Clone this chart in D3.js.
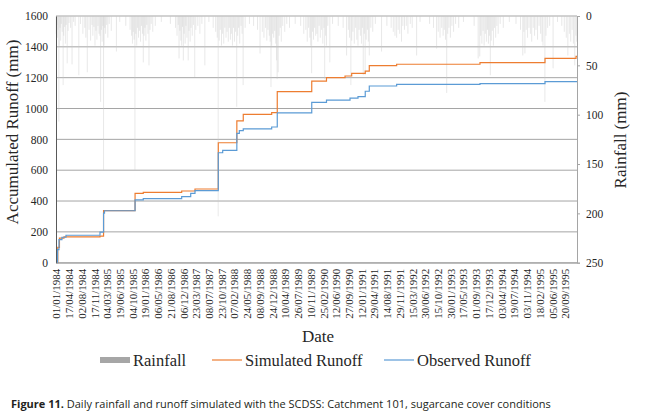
<!DOCTYPE html>
<html lang="en">
<head>
<meta charset="UTF-8">
<title>Rainfall and runoff - Catchment 101</title>
<script src="https://d3js.org/d3.v7.min.js"></script>
<style>
    body { margin: 0; background: #ffffff; }
    svg { display: block; }
    .tick text { font-family: 'Liberation Serif', 'Times New Roman', serif; font-size: 11.5px; fill: #262626; }
    .x-axis .tick text { font-size: 11px; }
    .axis-title { font-family: 'Liberation Serif', 'Times New Roman', serif; font-size: 17px; fill: #262626; }
    .legend-label { font-family: 'Liberation Serif', 'Times New Roman', serif; font-size: 16.5px; fill: #262626; }
    .caption { font-family: 'Open Sans', 'Noto Sans', sans-serif; font-size: 11px; fill: #231f20; }
</style>
</head>
<body>
<svg id="chart" width="645" height="414"></svg>
<script>
// x axis category labels (every 107th day, as in the spreadsheet)
const dateLabels = [
    "01/01/1984", "17/04/1984", "02/08/1984", "17/11/1984", "04/03/1985", "19/06/1985",
    "04/10/1985", "19/01/1986", "06/05/1986", "21/08/1986", "06/12/1986", "23/03/1987",
    "08/07/1987", "23/10/1987", "07/02/1988", "24/05/1988", "08/09/1988", "24/12/1988",
    "10/04/1989", "26/07/1989", "10/11/1989", "25/02/1990", "12/06/1990", "27/09/1990",
    "12/01/1991", "29/04/1991", "14/08/1991", "29/11/1991", "15/03/1992", "30/06/1992",
    "15/10/1992", "30/01/1993", "17/05/1993", "01/09/1993", "17/12/1993", "03/04/1994",
    "19/07/1994", "03/11/1994", "18/02/1995", "05/06/1995", "20/09/1995"
];
const firstDay = "1984-01-01";
const lastDay = "1995-12-31";

const runoffTicks = [0, 200, 400, 600, 800, 1000, 1200, 1400, 1600];
const rainTicks = [0, 50, 100, 150, 200, 250];

// accumulated runoff (mm): date where the curve steps, new total
const simulatedRunoff = [
    ["1984-01-01", 0], ["1984-01-16", 100], ["1984-01-30", 160], ["1984-03-08", 168],
    ["1985-01-05", 172], ["1985-02-04", 338], ["1985-10-27", 450], ["1986-01-04", 456],
    ["1986-11-23", 465], ["1987-03-15", 478], ["1987-09-27", 778], ["1988-03-01", 920],
    ["1988-04-24", 962], ["1988-12-19", 973], ["1989-02-04", 1110], ["1989-11-21", 1178],
    ["1990-03-25", 1200], ["1990-08-28", 1211], ["1990-10-23", 1228], ["1991-02-14", 1243],
    ["1991-03-20", 1278], ["1991-11-05", 1287], ["1993-10-06", 1297], ["1995-04-06", 1325],
    ["1995-12-23", 1338], ["1995-12-31", 1338]
];
const observedRunoff = [
    ["1984-01-01", 0], ["1984-01-14", 85], ["1984-01-26", 150], ["1984-02-20", 165],
    ["1984-03-25", 178], ["1985-01-05", 198], ["1985-02-04", 322], ["1985-02-12", 337],
    ["1985-10-27", 407], ["1986-01-04", 415], ["1986-11-23", 428], ["1987-02-07", 450],
    ["1987-03-15", 467], ["1987-09-27", 713], ["1987-11-03", 729], ["1988-03-01", 839],
    ["1988-03-22", 856], ["1988-04-24", 868], ["1988-12-19", 880], ["1989-02-04", 972],
    ["1989-11-21", 1040], ["1990-03-25", 1055], ["1990-10-09", 1068], ["1990-12-15", 1077],
    ["1991-02-14", 1112], ["1991-03-20", 1146], ["1991-11-05", 1157], ["1993-10-06", 1162],
    ["1995-04-06", 1175], ["1995-12-31", 1175]
];

// daily rainfall (mm), rain days only; all other days are dry
const rainfall = [
    ["1984-01-03", 18], ["1984-01-08", 9], ["1984-01-12", 22], ["1984-01-19", 14], ["1984-01-25", 107],
    ["1984-01-28", 30], ["1984-02-04", 12], ["1984-02-09", 25], ["1984-02-15", 8], ["1984-02-22", 16],
    ["1984-03-01", 70], ["1984-03-06", 20], ["1984-03-14", 11], ["1984-03-20", 28], ["1984-03-27", 9],
    ["1984-04-04", 48], ["1984-04-12", 15], ["1984-04-20", 7], ["1984-05-03", 12], ["1984-05-15", 49],
    ["1984-05-28", 6], ["1984-06-10", 10], ["1984-07-11", 60], ["1984-07-25", 8], ["1984-08-14", 18],
    ["1984-08-30", 12], ["1984-09-08", 22], ["1984-09-20", 57], ["1984-10-05", 14], ["1984-10-18", 25],
    ["1984-10-29", 9], ["1984-11-06", 20], ["1984-11-15", 11], ["1984-11-24", 30], ["1984-12-02", 15],
    ["1984-12-10", 24], ["1984-12-19", 10], ["1984-12-28", 18],
    ["1985-01-04", 20], ["1985-01-10", 87], ["1985-01-17", 14], ["1985-01-23", 26], ["1985-01-29", 10],
    ["1985-02-04", 156], ["1985-02-08", 30], ["1985-02-14", 12], ["1985-02-21", 18], ["1985-03-02", 9],
    ["1985-03-12", 22], ["1985-03-24", 8], ["1985-04-10", 15], ["1985-05-23", 36], ["1985-06-20", 6],
    ["1985-08-10", 10], ["1985-09-15", 14], ["1985-09-28", 20], ["1985-10-05", 28], ["1985-10-12", 16],
    ["1985-10-19", 24], ["1985-10-26", 156], ["1985-11-02", 18], ["1985-11-10", 30], ["1985-11-17", 12],
    ["1985-11-25", 22], ["1985-12-03", 15], ["1985-12-12", 26], ["1985-12-20", 10], ["1985-12-28", 18],
    ["1986-01-04", 47], ["1986-01-11", 20], ["1986-01-18", 12], ["1986-01-26", 25], ["1986-02-03", 9],
    ["1986-02-12", 18], ["1986-02-21", 50], ["1986-03-02", 14], ["1986-03-12", 8], ["1986-03-25", 16],
    ["1986-04-15", 10], ["1986-06-05", 6], ["1986-08-20", 8], ["1986-10-02", 12], ["1986-10-15", 20],
    ["1986-10-25", 9], ["1986-11-01", 43], ["1986-11-08", 15], ["1986-11-16", 25], ["1986-11-23", 30],
    ["1986-11-30", 11], ["1986-12-07", 45], ["1986-12-14", 18], ["1986-12-22", 28], ["1986-12-29", 10],
    ["1987-01-06", 22], ["1987-01-17", 45], ["1987-01-24", 15], ["1987-02-02", 26], ["1987-02-10", 12],
    ["1987-02-20", 20], ["1987-03-02", 9], ["1987-03-13", 62], ["1987-03-22", 14], ["1987-04-08", 10],
    ["1987-04-25", 18], ["1987-05-12", 8], ["1987-06-06", 50], ["1987-07-10", 6], ["1987-08-15", 12],
    ["1987-09-05", 16], ["1987-09-18", 22], ["1987-09-26", 203], ["1987-10-05", 25], ["1987-10-14", 14],
    ["1987-10-24", 30], ["1987-11-02", 18], ["1987-11-12", 28], ["1987-11-21", 12], ["1987-12-01", 22],
    ["1987-12-10", 16], ["1987-12-20", 26], ["1987-12-29", 12],
    ["1988-01-07", 24], ["1988-01-15", 18], ["1988-01-24", 30], ["1988-02-02", 12], ["1988-02-10", 26],
    ["1988-02-19", 16], ["1988-02-29", 92], ["1988-03-08", 20], ["1988-03-16", 12], ["1988-03-25", 28],
    ["1988-04-05", 10], ["1988-04-14", 18], ["1988-04-23", 70], ["1988-05-10", 12], ["1988-06-15", 8],
    ["1988-07-20", 10], ["1988-08-22", 14], ["1988-09-12", 38], ["1988-10-01", 16], ["1988-10-15", 22],
    ["1988-10-28", 12], ["1988-11-08", 25], ["1988-11-18", 14], ["1988-11-29", 20], ["1988-12-06", 26],
    ["1988-12-13", 72], ["1988-12-19", 30], ["1988-12-27", 18],
    ["1989-01-05", 22], ["1989-01-13", 15], ["1989-01-22", 28], ["1989-01-30", 45], ["1989-02-03", 64],
    ["1989-02-12", 57], ["1989-02-20", 20], ["1989-03-01", 12], ["1989-03-10", 26], ["1989-03-22", 10],
    ["1989-04-08", 16], ["1989-04-25", 8], ["1989-05-18", 12], ["1989-07-05", 8], ["1989-08-20", 10],
    ["1989-09-15", 18], ["1989-10-02", 14], ["1989-10-14", 26], ["1989-10-25", 12], ["1989-11-05", 22],
    ["1989-11-12", 30], ["1989-11-20", 58], ["1989-11-28", 16], ["1989-12-06", 24], ["1989-12-15", 12],
    ["1989-12-24", 20],
    ["1990-01-03", 18], ["1990-01-12", 26], ["1990-01-22", 10], ["1990-02-01", 22], ["1990-02-12", 14],
    ["1990-02-22", 28], ["1990-03-03", 12], ["1990-03-10", 64], ["1990-03-18", 20], ["1990-03-25", 30],
    ["1990-04-05", 10], ["1990-04-22", 47], ["1990-05-15", 8], ["1990-07-02", 10], ["1990-08-12", 12],
    ["1990-09-10", 40], ["1990-09-25", 14], ["1990-10-05", 22], ["1990-10-16", 70], ["1990-10-23", 25],
    ["1990-11-02", 16], ["1990-11-14", 28], ["1990-11-25", 12], ["1990-12-05", 24], ["1990-12-15", 30],
    ["1990-12-24", 14],
    ["1991-01-04", 20], ["1991-01-13", 28], ["1991-01-21", 12], ["1991-01-28", 60], ["1991-02-06", 18],
    ["1991-02-13", 60], ["1991-02-22", 24], ["1991-03-04", 14], ["1991-03-12", 26], ["1991-03-20", 40],
    ["1991-04-02", 12], ["1991-04-18", 16], ["1991-05-10", 8], ["1991-07-01", 36], ["1991-08-15", 10],
    ["1991-09-20", 12], ["1991-10-08", 16], ["1991-10-22", 20], ["1991-11-05", 22], ["1991-11-18", 14],
    ["1991-12-01", 18], ["1991-12-16", 26], ["1991-12-27", 10],
    ["1992-01-10", 14], ["1992-01-25", 10], ["1992-02-08", 18], ["1992-02-28", 8], ["1992-03-15", 12],
    ["1992-04-21", 40], ["1992-05-20", 6], ["1992-08-08", 8], ["1992-09-10", 12], ["1992-10-06", 33],
    ["1992-10-20", 16], ["1992-11-04", 22], ["1992-11-18", 12], ["1992-11-30", 20], ["1992-12-10", 14],
    ["1992-12-20", 24], ["1992-12-30", 78],
    ["1993-01-08", 18], ["1993-01-18", 12], ["1993-01-30", 22], ["1993-02-12", 10], ["1993-02-26", 16],
    ["1993-03-15", 8], ["1993-04-10", 12], ["1993-05-20", 6], ["1993-08-18", 10], ["1993-09-21", 43],
    ["1993-10-04", 41], ["1993-10-12", 20], ["1993-10-22", 28], ["1993-11-01", 15], ["1993-11-10", 30],
    ["1993-11-20", 18], ["1993-11-29", 26], ["1993-12-08", 14], ["1993-12-16", 28], ["1993-12-24", 20],
    ["1994-01-01", 60], ["1994-01-09", 25], ["1994-01-18", 15], ["1994-01-27", 30], ["1994-02-05", 12],
    ["1994-02-15", 22], ["1994-02-25", 10], ["1994-03-08", 18], ["1994-03-25", 8], ["1994-04-20", 12],
    ["1994-06-10", 6], ["1994-08-05", 8], ["1994-09-12", 14], ["1994-10-01", 40], ["1994-10-10", 16],
    ["1994-10-19", 38], ["1994-10-30", 14], ["1994-11-10", 22], ["1994-11-22", 12], ["1994-12-04", 18],
    ["1994-12-15", 26], ["1994-12-28", 12],
    ["1995-01-08", 20], ["1995-01-20", 14], ["1995-02-02", 24], ["1995-02-15", 10], ["1995-02-28", 18],
    ["1995-03-12", 26], ["1995-03-20", 30], ["1995-04-05", 87], ["1995-04-14", 20], ["1995-04-28", 12],
    ["1995-05-15", 10], ["1995-06-13", 53], ["1995-07-20", 6], ["1995-08-25", 10], ["1995-09-15", 16],
    ["1995-10-02", 22], ["1995-10-15", 40], ["1995-10-28", 18], ["1995-11-08", 26], ["1995-11-20", 14],
    ["1995-12-01", 28], ["1995-12-12", 50], ["1995-12-22", 20], ["1995-12-29", 26]
];

const seriesNames = ["Rainfall", "Simulated Runoff", "Observed Runoff"];
const seriesColors = ["#a6a6a6", "#ed7d31", "#5b9bd5"];

// ---------------------------------------------------------------
const svg = d3.select("#chart");
const plot = { left: 56, right: 577, top: 16, bottom: 262.7 };

const parseIso = d3.timeParse("%Y-%m-%d");
const parseLabel = d3.timeParse("%d/%m/%Y");
const formatLabel = d3.timeFormat("%d/%m/%Y");

const x = d3.scaleTime()
    .domain([parseIso(firstDay), parseIso(lastDay)])
    .range([plot.left, plot.right]);

const yRunoff = d3.scaleLinear()
    .domain([0, 1600])
    .range([plot.bottom, plot.top]);

// rainfall axis is inverted: bars hang from the top
const yRain = d3.scaleLinear()
    .domain([0, 250])
    .range([plot.top, plot.bottom]);

// horizontal gridlines
svg.append("g")
    .selectAll("line")
    .data(runoffTicks)
    .enter()
    .append("line")
    .attr("x1", plot.left)
    .attr("x2", plot.right)
    .attr("y1", d => yRunoff(d))
    .attr("y2", d => yRunoff(d))
    .attr("stroke", "#a5a5a5")
    .attr("stroke-width", 1);

// rainfall bars
svg.append("g")
    .selectAll("line")
    .data(rainfall)
    .enter()
    .append("line")
    .attr("x1", d => x(parseIso(d[0])))
    .attr("x2", d => x(parseIso(d[0])))
    .attr("y1", yRain(0))
    .attr("y2", d => yRain(d[1]))
    .attr("stroke", "#c8c8c8")
    .attr("stroke-opacity", 0.7)
    .attr("stroke-width", 0.6);

// runoff lines
const line = d3.line()
    .x(d => x(parseIso(d[0])))
    .y(d => yRunoff(d[1]))
    .curve(d3.curveStepAfter);

svg.append("path")
    .datum(simulatedRunoff)
    .attr("d", line)
    .attr("fill", "none")
    .attr("stroke", seriesColors[1])
    .attr("stroke-width", 1.2);

svg.append("path")
    .datum(observedRunoff)
    .attr("d", line)
    .attr("fill", "none")
    .attr("stroke", seriesColors[2])
    .attr("stroke-width", 1.2);

// left axis
const leftAxis = svg.append("g")
    .attr("transform", `translate(${plot.left},0)`)
    .call(d3.axisLeft(yRunoff).tickValues(runoffTicks).tickFormat(d3.format("d")).tickSize(0).tickPadding(8));
leftAxis.select(".domain").attr("stroke", "#595959");

// right axis
const rightAxis = svg.append("g")
    .attr("transform", `translate(${plot.right},0)`)
    .call(d3.axisRight(yRain).tickValues(rainTicks).tickSize(3).tickPadding(6));
rightAxis.select(".domain").attr("stroke", "#a5a5a5");
rightAxis.selectAll("line").attr("stroke", "#a5a5a5");

// bottom axis
const bottomAxis = svg.append("g")
    .attr("class", "x-axis")
    .attr("transform", `translate(0,${plot.bottom})`)
    .call(d3.axisBottom(x)
        .tickValues(dateLabels.map(parseLabel))
        .tickFormat(formatLabel)
        .tickSize(0));
bottomAxis.select(".domain").attr("stroke", "#a5a5a5");
bottomAxis.selectAll("text")
    .attr("text-anchor", "end")
    .attr("transform", "rotate(-90)")
    .attr("x", -6)
    .attr("y", 0)
    .attr("dy", "0.35em");

// axis titles
svg.append("text")
    .attr("class", "axis-title")
    .attr("text-anchor", "middle")
    .attr("transform", "translate(18,132) rotate(-90)")
    .text("Accumulated Runoff (mm)");

svg.append("text")
    .attr("class", "axis-title")
    .attr("text-anchor", "middle")
    .attr("transform", "translate(626,140) rotate(-90)")
    .text("Rainfall (mm)");

svg.append("text")
    .attr("class", "axis-title")
    .attr("text-anchor", "middle")
    .attr("x", 318)
    .attr("y", 342)
    .text("Date");

// legend
const legendItems = [
    { name: seriesNames[0], color: seriesColors[0], type: "bar", x: 100 },
    { name: seriesNames[1], color: seriesColors[1], type: "line", x: 212 },
    { name: seriesNames[2], color: seriesColors[2], type: "line", x: 384 }
];
const legend = svg.append("g").attr("transform", "translate(0,361)");
legendItems.forEach(item => {
    if (item.type === "bar") {
        legend.append("rect")
            .attr("x", item.x)
            .attr("y", -4)
            .attr("width", 30)
            .attr("height", 6)
            .attr("fill", item.color);
    } else {
        legend.append("line")
            .attr("x1", item.x)
            .attr("x2", item.x + 30)
            .attr("y1", -1)
            .attr("y2", -1)
            .attr("stroke", item.color)
            .attr("stroke-width", 1.2);
    }
    legend.append("text")
        .attr("class", "legend-label")
        .attr("x", item.x + 33)
        .attr("y", 5)
        .text(item.name);
});

// caption
const caption = svg.append("text")
    .attr("class", "caption")
    .attr("x", 11)
    .attr("y", 408);
caption.append("tspan")
    .attr("font-weight", "bold")
    .text("Figure 11.");
caption.append("tspan")
    .text(" Daily rainfall and runoff simulated with the SCDSS: Catchment 101, sugarcane cover conditions");
</script>
</body>
</html>
